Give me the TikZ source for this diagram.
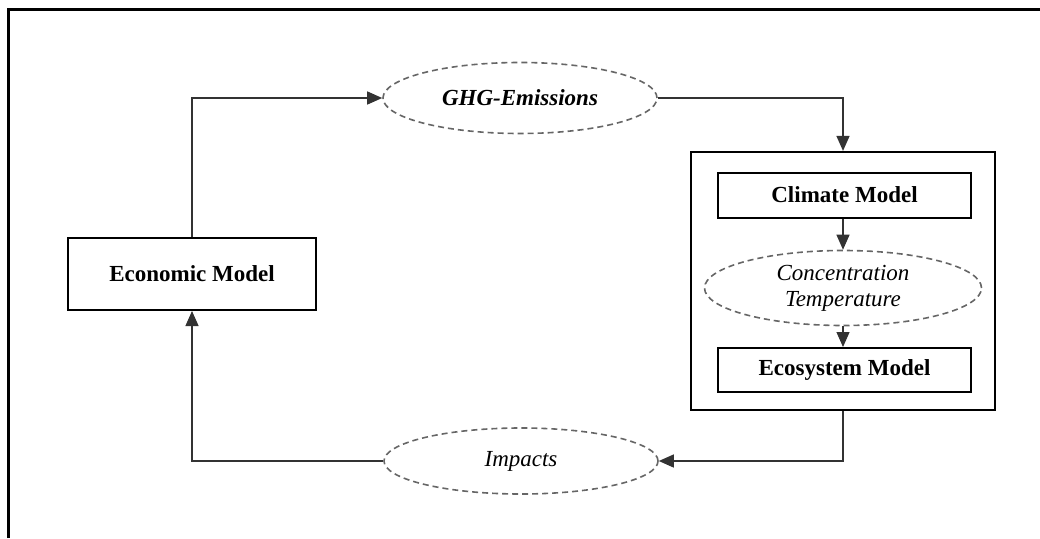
\documentclass[tikz,border=0pt]{standalone}
\usepackage{fontspec}
\setmainfont{Liberation Serif}
\usetikzlibrary{arrows.meta,shapes.geometric}

\begin{document}
\begin{tikzpicture}[x=1pt,y=-1pt,
    font=\fontsize{23}{26}\selectfont,
    model/.style={draw, line width=2pt, rectangle, align=center, font=\fontsize{23}{26}\selectfont\bfseries},
    flow/.style={draw=black!60, dash pattern=on 6pt off 4pt, line width=1.6pt, ellipse, align=center, inner sep=0pt},
    link/.style={draw=black!80, line width=1.3pt, -{Triangle[length=15pt,width=13pt]}}]
        \useasboundingbox (0,0) rectangle (1040,538);

        % Page frame (top and left only)
        \draw[line width=3pt] (8,538) -- (8,9) -- (1040,9);

        % Economic model on the left
        \node[model, minimum width=248pt, minimum height=72pt] (econ) at (192,274) {Economic Model};

        % Emissions and impacts
        \node[flow, minimum width=274pt, minimum height=71pt, font=\fontsize{23}{26}\selectfont\bfseries\itshape] (ghg) at (520,98) {GHG-Emissions};
        \node[flow, minimum width=274pt, minimum height=66pt, font=\fontsize{23}{26}\selectfont\itshape] (impacts) at (521,461) {Impacts};

        % Climate / ecosystem block
        \node[draw, line width=2.2pt, minimum width=304pt, minimum height=258pt] (block) at (843,281) {};
        \node[model, minimum width=253pt, minimum height=45pt] (climate) at (844.5,195) {Climate Model};
        \node[flow, minimum width=277pt, minimum height=75pt, font=\fontsize{23}{26}\selectfont\itshape] (conc) at (843,288) {Concentration\\Temperature};
        \node[model, minimum width=253pt, minimum height=44pt] (eco) at (844.5,370) {Ecosystem Model};

        % Connectors
        \draw[link] (econ) |- (ghg);
        \draw[link] (ghg) -| (block);
        \draw[link] (climate.south -| conc.north) -- (conc);
        \draw[link] (conc) -- (eco.north -| conc.south);
        \draw[link] (block) |- (impacts);
        \draw[link] (impacts) -| (econ);
    \end{tikzpicture}
\end{document}
